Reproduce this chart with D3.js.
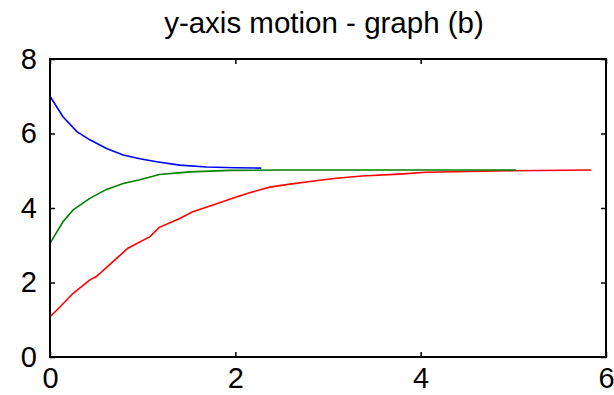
<!DOCTYPE html>
<html>
<head>
<meta charset="utf-8">
<script src="https://cdn.jsdelivr.net/npm/d3@7"></script>
<style>
  html, body { margin: 0; padding: 0; background: #fff; }
  svg { display: block; }
  text { font-family: "Liberation Sans", Arial, sans-serif; fill: #000; }
</style>
</head>
<body>
<svg id="chart" width="614" height="395"></svg>
<script>
// Response of the y coordinate over time for three starting positions
const titleText = "y-axis motion - graph (b)";
const xTicks = [0, 2, 4, 6];
const yTicks = [0, 2, 4, 6, 8];

const blueT = [0, 0.14, 0.29, 0.43, 0.61, 0.79, 0.97, 1.15, 1.40, 1.69, 2.00, 2.28];
const blueY = [7.0, 6.45, 6.05, 5.83, 5.60, 5.42, 5.32, 5.24, 5.15, 5.10, 5.08, 5.07];

const greenT = [0, 0.14, 0.25, 0.43, 0.61, 0.79, 0.97, 1.18, 1.51, 1.94, 2.5, 3.5, 5.03];
const greenY = [3.05, 3.63, 3.95, 4.26, 4.50, 4.66, 4.76, 4.90, 4.97, 5.01, 5.02, 5.02, 5.02];

const redT = [0, 0.11, 0.25, 0.43, 0.50, 0.68, 0.84, 1.08, 1.18, 1.40, 1.54, 1.76, 1.97, 2.17, 2.37, 2.59, 2.87, 3.09, 3.37, 3.77, 4.06, 4.99, 5.84];
const redY = [1.08, 1.35, 1.71, 2.07, 2.16, 2.56, 2.92, 3.23, 3.48, 3.72, 3.90, 4.08, 4.26, 4.42, 4.56, 4.64, 4.73, 4.80, 4.86, 4.91, 4.96, 5.00, 5.02];

const series = [
  { t: redT, y: redY, color: "#ff0000" },
  { t: greenT, y: greenY, color: "#008000" },
  { t: blueT, y: blueY, color: "#0000ff" }
];

const svg = d3.select("#chart");
const plotL = 50, plotR = 606, plotT = 59, plotB = 357;

const x = d3.scaleLinear().domain([0, 6]).range([plotL, plotR]);
const y = d3.scaleLinear().domain([0, 8]).range([plotB, plotT]);

// title
svg.append("text")
  .attr("x", 324)
  .attr("y", 33)
  .attr("text-anchor", "middle")
  .style("font-size", "29.5px")
  .text(titleText);

// curves
const line = d3.line().x(d => x(d[0])).y(d => y(d[1]));
series.forEach(s => {
  svg.append("path")
    .datum(s.t.map((t, i) => [t, s.y[i]]))
    .attr("fill", "none")
    .attr("stroke", s.color)
    .attr("stroke-width", 1.6)
    .attr("d", line);
});

// axes with inward ticks on all four sides
const tickLen = 5;
function styleAxis(g) {
  g.select(".domain").remove();
  g.selectAll(".tick line").attr("stroke", "#000").attr("stroke-width", 1.5);
  g.selectAll(".tick text").style("font-size", "29px").style("font-family", "'Liberation Sans', Arial, sans-serif");
}

svg.append("g")
  .attr("transform", `translate(0,${plotB})`)
  .call(d3.axisBottom(x).tickValues(xTicks).tickFormat(d3.format("d")).tickSizeInner(-tickLen).tickSizeOuter(0).tickPadding(10))
  .call(styleAxis);

svg.append("g")
  .attr("transform", `translate(${plotL},0)`)
  .call(d3.axisLeft(y).tickValues(yTicks).tickFormat(d3.format("d")).tickSizeInner(-tickLen).tickSizeOuter(0).tickPadding(13))
  .call(styleAxis);

svg.append("g")
  .attr("transform", `translate(0,${plotT})`)
  .call(d3.axisTop(x).tickValues(xTicks).tickFormat("").tickSizeInner(-tickLen).tickSizeOuter(0))
  .call(styleAxis);

svg.append("g")
  .attr("transform", `translate(${plotR},0)`)
  .call(d3.axisRight(y).tickValues(yTicks).tickFormat("").tickSizeInner(-tickLen).tickSizeOuter(0))
  .call(styleAxis);

// frame
svg.append("rect")
  .attr("x", plotL).attr("y", plotT)
  .attr("width", plotR - plotL).attr("height", plotB - plotT)
  .attr("fill", "none")
  .attr("stroke", "#000")
  .attr("stroke-width", 2);
</script>
</body>
</html>
